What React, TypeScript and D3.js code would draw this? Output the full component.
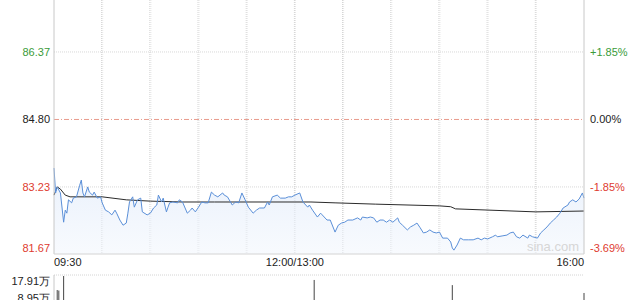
import React from "react";
import * as d3 from "d3";

// ---- data ----
const prevClose = 84.8;
const priceTicks = [87.94, 86.37, 84.8, 83.23, 81.67];
const pctLabels = ["+3.69%", "+1.85%", "0.00%", "-1.85%", "-3.69%"];
const timeLabels = ["09:30", "12:00/13:00", "16:00"];
const timeLabelMinutes = [0, 150, 330];
const volTicks = [17.91, 8.95];

const priceMinutes = [
  0, 1, 2, 4, 6, 7, 8, 9, 11, 12, 14, 16, 17, 18, 19, 21, 22, 24, 25, 27, 29, 30, 32, 34, 36, 38, 39, 41, 43, 45,
  46, 47, 49, 50, 52, 54, 55, 58, 60, 62, 64, 65, 67, 68, 70, 71, 72, 74, 77, 78, 80, 83, 85, 86, 88, 90, 92, 94,
  96, 98, 100, 102, 105, 106, 108, 111, 113, 115, 117, 119, 121, 124, 126, 128, 131, 133, 134, 136, 139, 141, 144,
  146, 148, 150, 153, 155, 158, 159, 161, 164, 166, 167, 170, 172, 175, 177, 179, 181, 183, 186, 189, 191, 192, 195,
  197, 199, 201, 203, 205, 207, 209, 211, 214, 215, 217, 220, 222, 224, 226, 228, 230, 232, 234, 236, 238, 240, 242,
  245, 247, 248, 249, 251, 253, 255, 258, 261, 264, 266, 268, 270, 273, 275, 276, 279, 282, 284, 286, 288, 290, 292,
  295, 296, 298, 301, 303, 305, 307, 309, 311, 313, 315, 317, 320, 321, 323, 325, 327, 329, 330,
];
const prices = [
  83.67, 83.09, 83.23, 83.09, 82.41, 82.69, 82.62, 82.93, 82.86, 82.97, 83.0, 83.27, 83.39, 83.09, 83.0, 83.23,
  83.11, 83.04, 83.11, 82.97, 83.0, 82.86, 82.69, 82.65, 82.58, 82.69, 82.62, 82.46, 82.34, 82.39, 82.62, 82.88,
  83.0, 82.76, 82.93, 82.97, 82.65, 82.58, 82.62, 82.74, 82.81, 83.04, 82.88, 82.97, 82.65, 82.76, 82.86, 82.88,
  82.86, 82.93, 82.88, 82.62, 82.69, 82.74, 82.65, 82.76, 82.88, 82.86, 82.86, 83.11, 83.04, 83.0, 83.09, 83.04,
  83.0, 82.81, 82.88, 82.86, 83.09, 82.93, 82.76, 82.62, 82.69, 82.74, 82.74, 82.88, 82.81, 83.0, 83.04, 82.97,
  82.97, 83.0, 83.0, 83.04, 83.09, 82.88, 82.76, 82.81, 82.69, 82.53, 82.62, 82.58, 82.46, 82.46, 82.18, 82.34,
  82.39, 82.41, 82.46, 82.46, 82.51, 82.46, 82.53, 82.51, 82.53, 82.51, 82.41, 82.46, 82.46, 82.41, 82.46, 82.41,
  82.51, 82.41, 82.34, 82.23, 82.3, 82.34, 82.39, 82.28, 82.16, 82.18, 82.23, 82.18, 82.16, 82.18, 82.04, 82.04,
  81.95, 81.81, 81.76, 81.88, 82.04, 82.0, 82.0, 82.0, 82.04, 82.0, 82.04, 82.02, 82.07, 82.11, 82.07, 82.09,
  82.11, 82.16, 82.18, 82.07, 82.04, 82.11, 82.04, 82.11, 82.07, 82.04, 82.16, 82.23, 82.3, 82.39, 82.46, 82.53,
  82.62, 82.74, 82.81, 82.88, 82.93, 82.88, 82.95, 83.09, 82.97,
];

const avgMinutes = [0, 2, 4, 7, 10, 30, 45, 60, 80, 100, 150, 160, 175, 200, 240, 247, 250, 300, 330];
const avgPrices = [83.04, 83.23, 83.18, 83.04, 83.0, 83.0, 82.93, 82.9, 82.88, 82.88, 82.88, 82.88, 82.86, 82.83, 82.79, 82.77, 82.72, 82.65, 82.67];

const volMinutes = [2, 3, 6, 162, 248, 330];
const volumes = [12.2, 12.0, 17.91, 16.3, 14.2, 11.0];

// ---- layout ----
const W = 640;
const H = 300;
const left = 54;
const right = 584;
const plotBottom = 254;
const volTop = 276;

const GREEN = "#3a9b3a";
const RED = "#de3b30";
const FONT = "'Liberation Sans', Arial, sans-serif";

export default function App() {
  const x = d3.scaleLinear().domain([0, 330]).range([left, right]);
  const y = d3.scaleLinear().domain([81.67, 87.94]).range([plotBottom, -15.5]);
  const yv = d3.scaleLinear().domain([0, 17.91]).range([320, volTop]);

  const priceData = priceMinutes.map((m, i) => [m, prices[i]] as [number, number]);
  const avgData = avgMinutes.map((m, i) => [m, avgPrices[i]] as [number, number]);

  const line = d3.line<[number, number]>().x((d) => x(d[0])).y((d) => y(d[1]));
  const area = d3
    .area<[number, number]>()
    .x((d) => x(d[0]))
    .y0(plotBottom)
    .y1((d) => y(d[1]));

  const gridMinutes = d3.range(30, 330, 30);

  const colorFor = (v: number) => (Math.abs(v - prevClose) < 0.005 ? "#222" : v > prevClose ? GREEN : RED);

  return (
    <svg
      width={W}
      height={H}
      style={{ position: "absolute", left: 0, top: 0, background: "#fff" }}
      fontFamily={FONT}
    >
      <defs>
        <linearGradient id="areaFill" x1="0" y1="0" x2="0" y2="1">
          <stop offset="0%" stopColor="#dfeafa" stopOpacity={0.7} />
          <stop offset="100%" stopColor="#f3f7fd" stopOpacity={0.6} />
        </linearGradient>
      </defs>

      {/* vertical grid lines */}
      {gridMinutes.map((m) => (
        <g key={m}>
          <line x1={x(m) - 0.5} x2={x(m) - 0.5} y1={-20} y2={plotBottom} stroke="#d2d2d2" strokeDasharray="1,1" />
          <line x1={x(m) + 0.5} x2={x(m) + 0.5} y1={-20} y2={plotBottom} stroke="#e6e6e6" strokeDasharray="1,1" />
        </g>
      ))}

      {/* horizontal grid lines */}
      {priceTicks.map((p) =>
        Math.abs(p - prevClose) < 0.005 ? (
          <line key={p} x1={left} x2={right} y1={y(p)} y2={y(p)} stroke="#e89a8c" strokeDasharray="5,2,1,2" />
        ) : p === 81.67 ? null : (
          <line key={p} x1={left} x2={right} y1={y(p)} y2={y(p)} stroke="#d8d8d8" strokeDasharray="1,1" />
        )
      )}

      {/* area + lines */}
      <path d={area(priceData) || ""} fill="url(#areaFill)" />
      <path d={line(avgData) || ""} fill="none" stroke="#2b2b2b" strokeWidth={1} />
      <path d={line(priceData) || ""} fill="none" stroke="#5a8fd8" strokeWidth={1} />

      {/* frame */}
      <line x1={left} x2={left} y1={-20} y2={plotBottom} stroke="#c8c8c8" />
      <line x1={right} x2={right} y1={-20} y2={plotBottom} stroke="#c8c8c8" />
      <line x1={left} x2={right} y1={plotBottom} y2={plotBottom} stroke="#d4d4d4" />

      {/* watermark */}
      <text x={553} y={251} fontSize={13} fill="#d6d6d6" textAnchor="middle">
        sina.com
      </text>

      {/* price labels */}
      {priceTicks.map((p, i) => (
        <text
          key={"l" + p}
          x={50}
          y={y(p) + (i === priceTicks.length - 1 ? -6 : 0)}
          dy="0.35em"
          fontSize={11}
          textAnchor="end"
          fill={colorFor(p)}
        >
          {p.toFixed(2)}
        </text>
      ))}
      {priceTicks.map((p, i) => (
        <text
          key={"r" + p}
          x={590}
          y={y(p) + (i === priceTicks.length - 1 ? -6 : 0)}
          dy="0.35em"
          fontSize={11}
          textAnchor="start"
          fill={colorFor(p)}
        >
          {pctLabels[i]}
        </text>
      ))}

      {/* time labels */}
      {timeLabels.map((t, i) => (
        <text
          key={t}
          x={x(timeLabelMinutes[i])}
          y={262}
          dy="0.35em"
          fontSize={11}
          fill="#222"
          textAnchor={i === 0 ? "start" : i === timeLabels.length - 1 ? "end" : "middle"}
        >
          {t}
        </text>
      ))}

      {/* volume panel */}
      <line x1={left} x2={right} y1={volTop - 1} y2={volTop - 1} stroke="#d4d4d4" strokeDasharray="1,1" />
      <line x1={left} x2={left} y1={volTop - 1} y2={H} stroke="#c8c8c8" />
      {volMinutes.map((m, i) => (
        <line key={"v" + m} x1={x(m)} x2={x(m)} y1={yv(volumes[i])} y2={H} stroke="#444" strokeWidth={1} />
      ))}
      {volTicks.map((v, i) => (
        <text
          key={"vt" + v}
          x={50}
          y={yv(v) + (i === 0 ? 5 : 0)}
          dy="0.35em"
          fontSize={11}
          textAnchor="end"
          fill="#222"
        >
          {v.toFixed(2) + "万"}
        </text>
      ))}
    </svg>
  );
}
